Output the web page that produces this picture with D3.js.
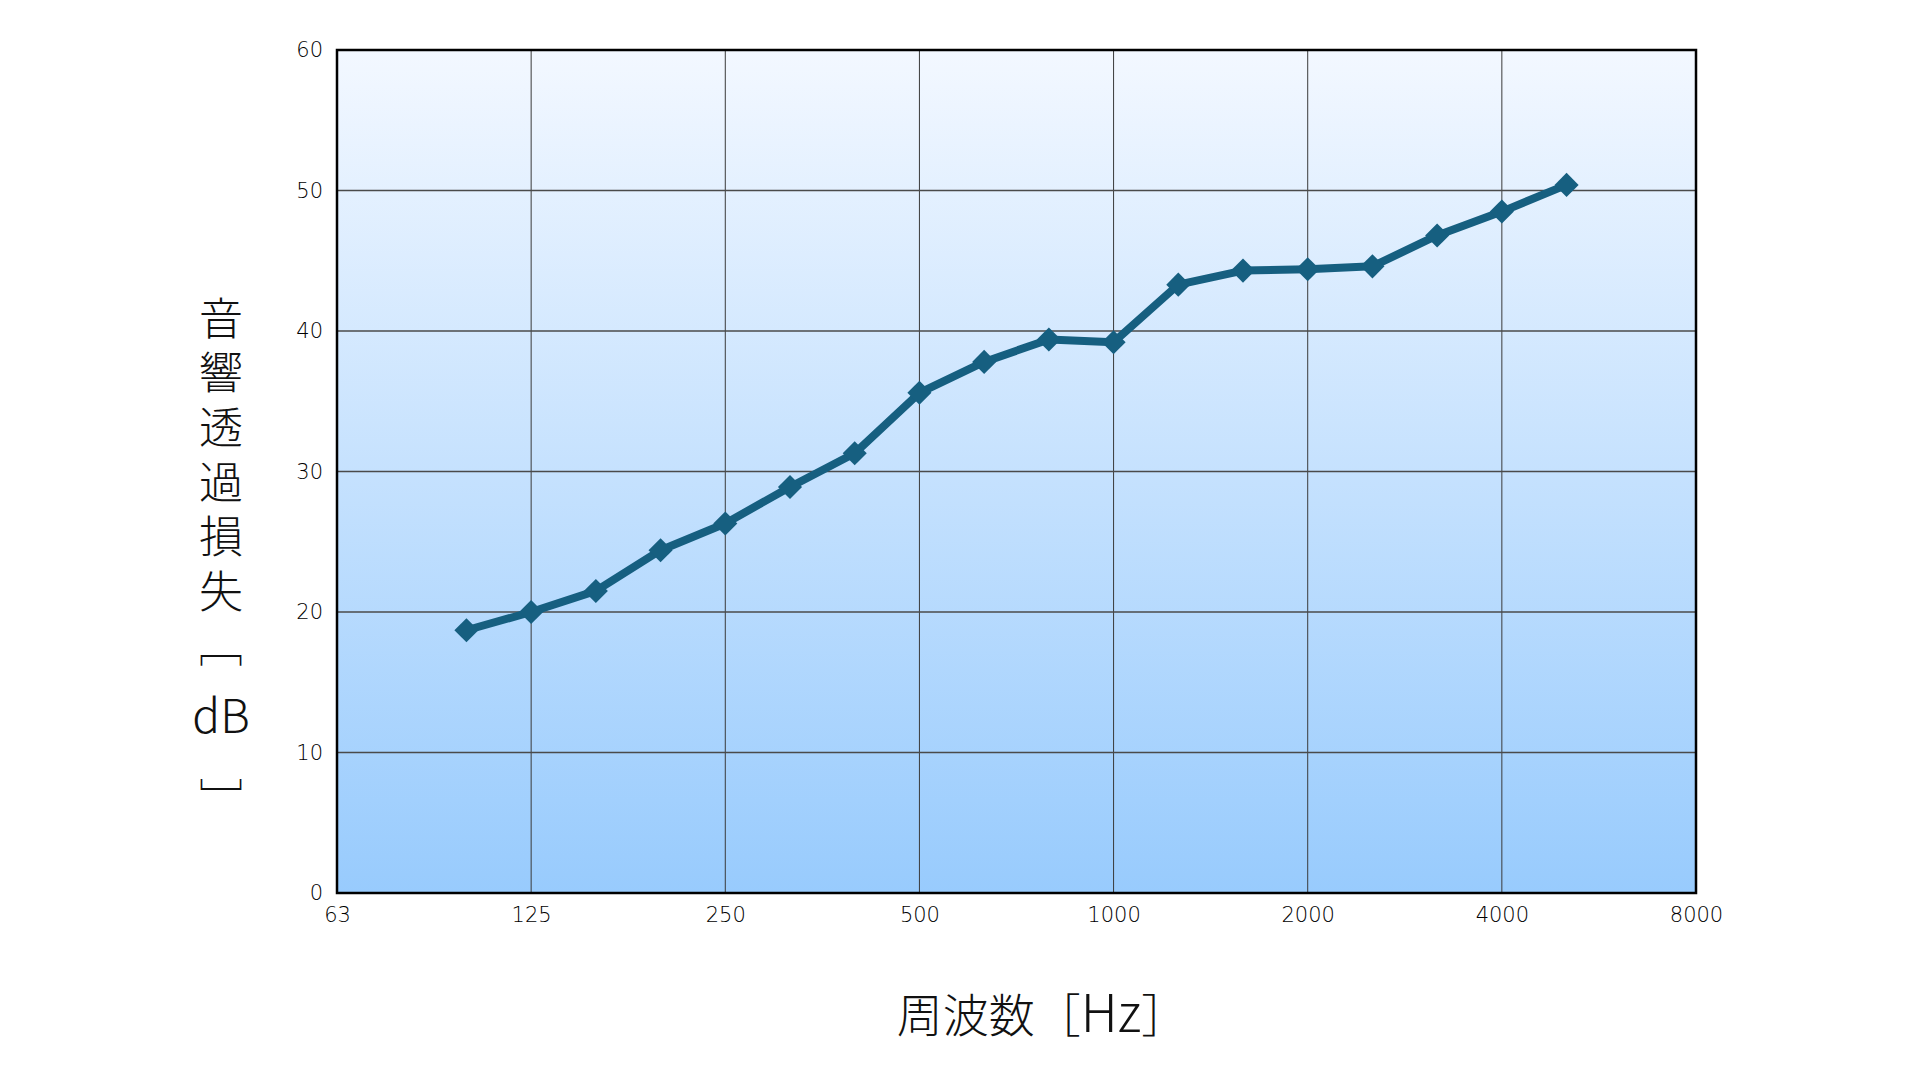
<!DOCTYPE html>
<html>
<head>
<meta charset="utf-8">
<script src="https://cdn.jsdelivr.net/npm/d3@7"></script>
<style>
    body { margin: 0; background: white; }
    svg { display: block; }
</style>
</head>
<body>
<svg id="chart" width="1920" height="1080"></svg>
<script>
// third-octave bands across the whole x axis, octave labels shown as ticks
const bands = ["63", "80", "100", "125", "160", "200", "250", "315", "400", "500",
    "630", "800", "1000", "1250", "1600", "2000", "2500", "3150", "4000", "5000", "6300", "8000"]
const octaveTicks = ["63", "125", "250", "500", "1000", "2000", "4000", "8000"]
const yTicks = [0, 10, 20, 30, 40, 50, 60]

// measured transmission loss [dB]
const freqs = ["100", "125", "160", "200", "250", "315", "400", "500", "630",
    "800", "1000", "1250", "1600", "2000", "2500", "3150", "4000", "5000"]
const lossValues = [18.7, 20.0, 21.5, 24.4, 26.3, 28.9, 31.3, 35.6, 37.8,
    39.4, 39.2, 43.3, 44.3, 44.4, 44.6, 46.8, 48.5, 50.4]

const yLabelMain = "音響透過損失［"
const yLabelUnit = "dB"
const yLabelEnd = "］"
const xLabelMain = "周波数"
const xLabelUnit = "Hz"

const plot = {left: 337, right: 1696, top: 50, bottom: 893}
const lineColor = "#165f80"
const jpFont = "'Noto Sans CJK JP', 'Noto Sans', sans-serif"
const numFont = "'DejaVu Sans', sans-serif"

const svg = d3.select("#chart")

const x = d3.scalePoint()
    .domain(bands)
    .range([plot.left, plot.right])
    .padding(0)

const y = d3.scaleLinear()
    .domain([0, 60])
    .range([plot.bottom, plot.top])

// background gradient
const grad = svg.append("defs")
    .append("linearGradient")
    .attr("id", "bgGrad")
    .attr("x1", 0).attr("y1", 0)
    .attr("x2", 0).attr("y2", 1)
grad.append("stop").attr("offset", "0%").attr("stop-color", "#f3f8ff")
grad.append("stop").attr("offset", "100%").attr("stop-color", "#98cbfd")

svg.append("rect")
    .attr("x", plot.left)
    .attr("y", plot.top)
    .attr("width", plot.right - plot.left)
    .attr("height", plot.bottom - plot.top)
    .attr("fill", "url(#bgGrad)")

// grid
const gridGroup = svg.append("g")
    .attr("stroke", "#3a3a3a")
    .attr("stroke-width", 1)
gridGroup.selectAll("line.v")
    .data(octaveTicks)
    .enter()
    .append("line")
    .attr("class", "v")
    .attr("x1", d => x(d))
    .attr("x2", d => x(d))
    .attr("y1", plot.top)
    .attr("y2", plot.bottom)
gridGroup.selectAll("line.h")
    .data(yTicks)
    .enter()
    .append("line")
    .attr("class", "h")
    .attr("x1", plot.left)
    .attr("x2", plot.right)
    .attr("y1", d => y(d))
    .attr("y2", d => y(d))
    .attr("stroke", "#4a4a4a")
    .attr("stroke-width", 1.3)

// axes (labels only, frame drawn separately)
const xAxis = svg.append("g")
    .attr("transform", `translate(0,${plot.bottom})`)
    .call(d3.axisBottom(x).tickValues(octaveTicks).tickSize(0).tickPadding(14))
const yAxis = svg.append("g")
    .attr("transform", `translate(${plot.left},0)`)
    .call(d3.axisLeft(y).tickValues(yTicks).tickSize(0).tickPadding(14))
xAxis.select(".domain").remove()
yAxis.select(".domain").remove()
svg.selectAll(".tick text")
    .attr("font-family", numFont)
    .attr("font-weight", 200)
    .attr("font-size", "21px")
    .attr("fill", "#000")

svg.append("rect")
    .attr("x", plot.left)
    .attr("y", plot.top)
    .attr("width", plot.right - plot.left)
    .attr("height", plot.bottom - plot.top)
    .attr("fill", "none")
    .attr("stroke", "black")
    .attr("stroke-width", 2.5)

// series
const line = d3.line()
    .x((d, i) => x(freqs[i]))
    .y(d => y(d))

svg.append("path")
    .datum(lossValues)
    .attr("d", line)
    .attr("fill", "none")
    .attr("stroke", lineColor)
    .attr("stroke-width", 8)
    .attr("stroke-linejoin", "round")

svg.append("g")
    .selectAll("path")
    .data(lossValues)
    .enter()
    .append("path")
    .attr("d", d3.symbol(d3.symbolSquare, 290))
    .attr("transform", (d, i) => `translate(${x(freqs[i])},${y(d)}) rotate(45)`)
    .attr("fill", lineColor)

// axis titles - vertical writing for the y title
const yTitle = svg.append("g")
    .attr("font-family", jpFont)
    .attr("font-weight", 300)
    .attr("font-size", "44px")
    .attr("fill", "#111")
yTitle.append("text")
    .attr("x", 221)
    .attr("y", 296)
    .style("writing-mode", "vertical-rl")
    .style("letter-spacing", "10.6px")
    .text(yLabelMain)
yTitle.append("text")
    .attr("x", 221)
    .attr("y", 716)
    .attr("dy", "0.36em")
    .attr("text-anchor", "middle")
    .attr("font-size", "46px")
    .text(yLabelUnit)
yTitle.append("text")
    .attr("x", 221)
    .attr("y", 778)
    .style("writing-mode", "vertical-rl")
    .text(yLabelEnd)

const xTitle = svg.append("text")
    .attr("x", 1042)
    .attr("y", 1015)
    .attr("dy", "0.36em")
    .attr("text-anchor", "middle")
    .attr("font-family", jpFont)
    .attr("font-weight", 300)
    .attr("font-size", "46px")
    .attr("fill", "#111")
xTitle.append("tspan").text(xLabelMain + "［")
xTitle.append("tspan").attr("font-size", "52px").text(xLabelUnit)
xTitle.append("tspan").text("］")
</script>
</body>
</html>
